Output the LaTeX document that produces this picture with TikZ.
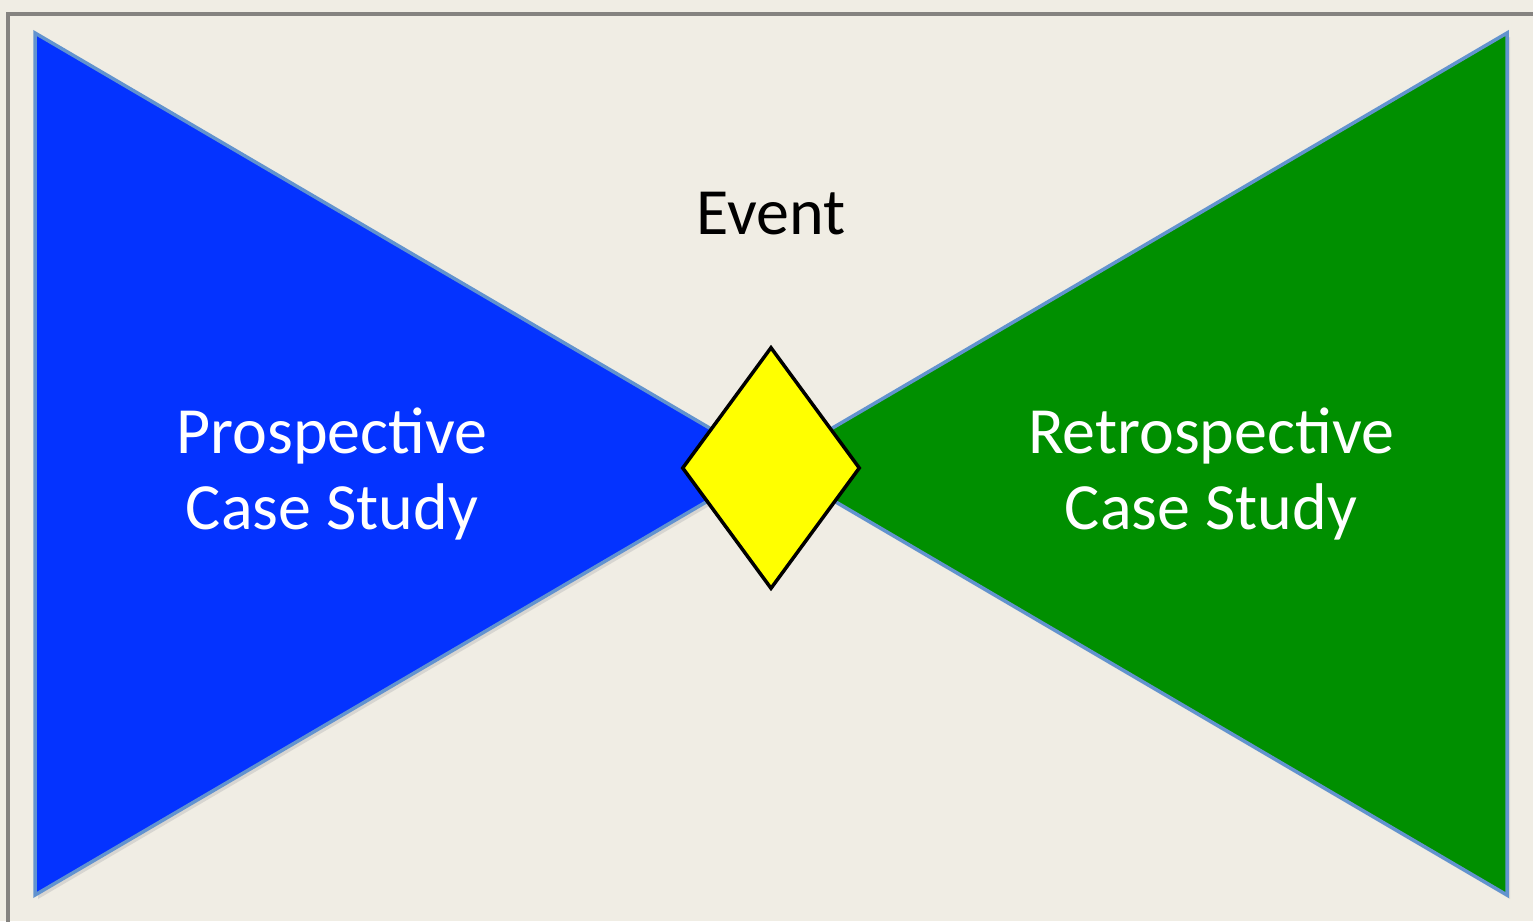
\documentclass[tikz,border=0pt]{standalone}
\usepackage{fontspec}
\setmainfont{Carlito}
\usetikzlibrary{shapes.geometric}
\definecolor{bg}{HTML}{F0EDE4}
\definecolor{frame}{HTML}{858380}
\definecolor{pblue}{HTML}{0433FF}
\definecolor{rgreen}{HTML}{008F00}
\definecolor{edge}{HTML}{6293CF}
\definecolor{gem}{HTML}{FFFF00}
\tikzset{
  wing/.style={draw=edge, line width=3.5pt, line join=miter},
  lbl/.style={text=white, font=\fontsize{66}{76}\selectfont, align=center, inner sep=0pt},
}
\begin{document}
\begin{tikzpicture}[x=1pt,y=-1pt]
\fill[bg] (0,0) rectangle (1533,921);
\useasboundingbox (0,0) rectangle (1533,921);
\draw[frame, line width=3.5pt] (8,940) -- (8,14) -- (1560,14);
\coordinate (tl) at (35,33);
\coordinate (bl) at (35,895);
\coordinate (tr) at (1507,33);
\coordinate (br) at (1507,895);
\coordinate (mid) at (771,464);
\fill[black!25, opacity=0.5] ([shift={(3,4)}]tl) -- ([shift={(3,4)}]mid) -- ([shift={(3,4)}]bl) -- cycle;
\fill[black!25, opacity=0.5] ([shift={(3,4)}]tr) -- ([shift={(3,4)}]mid) -- ([shift={(3,4)}]br) -- cycle;
\filldraw[wing, fill=pblue] (tl) -- (mid) -- (bl) -- cycle;
\filldraw[wing, fill=rgreen] (tr) -- (mid) -- (br) -- cycle;
\node[diamond, draw=black, line width=3.5pt, fill=gem, minimum width=178pt, minimum height=242pt, inner sep=0pt, aspect=0.735] (event) at (771,468) {};
\node[font=\fontsize{66}{76}\selectfont, inner sep=0pt] (evlbl) at (771,214) {Event};
\node[lbl] (pros) at (332,474) {Prospective\\Case Study};
\node[lbl] (retro) at (1211,474) {Retrospective\\Case Study};
\end{tikzpicture}
\end{document}
